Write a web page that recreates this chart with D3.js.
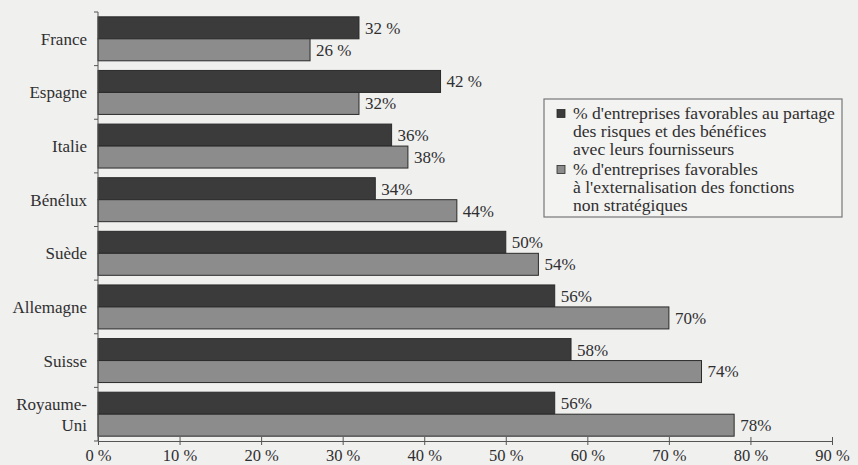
<!DOCTYPE html>
<html>
<head>
<meta charset="utf-8">
<script src="https://cdn.jsdelivr.net/npm/d3@7"></script>
<style>
  html, body { margin: 0; padding: 0; background: #f0f0ef; }
  svg { display: block; }
  text { font-family: "Liberation Serif", "DejaVu Serif", serif; fill: #2f2f2f; }
</style>
</head>
<body>
<svg id="chart" width="858" height="465"></svg>
<script>
// Pays étudiés (de haut en bas)
const countries = ["France", "Espagne", "Italie", "Bénélux", "Suède", "Allemagne", "Suisse", "Royaume-Uni"];
// % d'entreprises favorables au partage des risques et des bénéfices
const partage = [32, 42, 36, 34, 50, 56, 58, 56];
const partageLabels = ["32 %", "42 %", "36%", "34%", "50%", "56%", "58%", "56%"];
// % d'entreprises favorables à l'externalisation des fonctions non stratégiques
const externalisation = [26, 32, 38, 44, 54, 70, 74, 78];
const externalisationLabels = ["26 %", "32%", "38%", "44%", "54%", "70%", "74%", "78%"];
// Graduations de l'axe horizontal
const xTicks = [0, 10, 20, 30, 40, 50, 60, 70, 80, 90];
const xTickLabels = ["0 %", "10 %", "20 %", "30 %", "40 %", "50 %", "60 %", "70 %", "80 %", "90 %"];
// Légende
const legendItems = [
  { lines: ["% d'entreprises favorables au partage", "des risques et des bénéfices", "avec leurs fournisseurs"] },
  { lines: ["% d'entreprises favorables", "à l'externalisation des fonctions", "non stratégiques"] }
];

const colors = { partage: "#3b3b3b", externalisation: "#8c8c8c", stroke: "#2a2a2a" };

const svg = d3.select("#chart");
const margin = { left: 98, right: 26, top: 12, bottom: 24 };
const W = 858, H = 465;

const x = d3.scaleLinear().domain([0, 90]).range([margin.left, W - margin.right]);
const y = d3.scaleBand().domain(countries).range([margin.top, H - margin.bottom]).paddingInner(0.18).paddingOuter(0.09);
const sub = d3.scaleBand().domain(["partage", "externalisation"]).range([0, y.bandwidth()]);

const rows = countries.map((c, i) => ({
  country: c,
  bars: [
    { key: "partage", value: partage[i], label: partageLabels[i] },
    { key: "externalisation", value: externalisation[i], label: externalisationLabels[i] }
  ]
}));

const g = svg.selectAll("g.row").data(rows).join("g")
  .attr("class", "row")
  .attr("transform", d => `translate(0,${y(d.country)})`);

g.selectAll("rect").data(d => d.bars).join("rect")
  .attr("x", x(0))
  .attr("y", d => sub(d.key))
  .attr("width", d => x(d.value) - x(0))
  .attr("height", sub.bandwidth())
  .attr("fill", d => colors[d.key])
  .attr("stroke", colors.stroke)
  .attr("stroke-width", 1);

g.selectAll("text.val").data(d => d.bars).join("text")
  .attr("class", "val")
  .attr("x", d => x(d.value) + 6)
  .attr("y", d => sub(d.key) + sub.bandwidth() / 2)
  .attr("dy", "0.35em")
  .attr("font-size", 17)
  .text(d => d.label);

// Libellés des pays
svg.selectAll("text.cat").data(countries).join("text")
  .attr("class", "cat")
  .attr("x", margin.left - 11)
  .attr("y", d => y(d) + y.bandwidth() / 2)
  .attr("text-anchor", "end")
  .attr("font-size", 17)
  .each(function (d) {
    const parts = d === "Royaume-Uni" ? ["Royaume-", "Uni"] : [d];
    const t = d3.select(this);
    parts.forEach((p, k) => {
      t.append("tspan")
        .attr("x", margin.left - 11)
        .attr("dy", k === 0 ? (0.35 - (parts.length - 1) * 0.62) + "em" : "1.24em")
        .text(p);
    });
  });

// Axe vertical avec repères entre les pays
const yEdges = countries.map(c => y(c) - y.step() * y.paddingInner() / 2);
yEdges.push(H - margin.bottom);
svg.append("line")
  .attr("x1", x(0)).attr("x2", x(0))
  .attr("y1", margin.top).attr("y2", H - margin.bottom)
  .attr("stroke", "#555").attr("stroke-width", 1);
svg.selectAll("line.ytick").data(yEdges).join("line")
  .attr("class", "ytick")
  .attr("x1", x(0) - 4).attr("x2", x(0))
  .attr("y1", d => d).attr("y2", d => d)
  .attr("stroke", "#555");

// Axe horizontal
const xAxis = d3.axisBottom(x)
  .tickValues(xTicks)
  .tickFormat((d, i) => xTickLabels[i])
  .tickSizeInner(4)
  .tickSizeOuter(0)
  .tickPadding(4);
const ax = svg.append("g")
  .attr("transform", `translate(0,${H - margin.bottom})`)
  .call(xAxis);
ax.select(".domain").attr("stroke", "#555");
ax.selectAll(".tick line").attr("stroke", "#555").attr("y1", -4);
ax.selectAll(".tick text")
  .attr("font-family", "Liberation Serif, serif")
  .attr("font-size", 16.5)
  .attr("fill", "#2f2f2f");

// Légende encadrée
const lg = svg.append("g").attr("transform", "translate(544,99)");
lg.append("rect")
  .attr("width", 298).attr("height", 118)
  .attr("fill", "#f3f3f2").attr("stroke", "#777").attr("stroke-width", 1.2);
const lineH = 17.8;
legendItems.forEach((item, i) => {
  const base = 20 + i * 56;
  lg.append("rect")
    .attr("x", 13).attr("y", base - 9.5)
    .attr("width", 8).attr("height", 8)
    .attr("fill", i === 0 ? colors.partage : colors.externalisation)
    .attr("stroke", colors.stroke).attr("stroke-width", 0.8);
  const t = lg.append("text")
    .attr("font-size", 16)
    .attr("transform", "translate(29,0) scale(1.1,1)");
  item.lines.forEach((l, k) => {
    t.append("tspan").attr("x", 0).attr("y", base + k * lineH).text(l);
  });
});
</script>
</body>
</html>
